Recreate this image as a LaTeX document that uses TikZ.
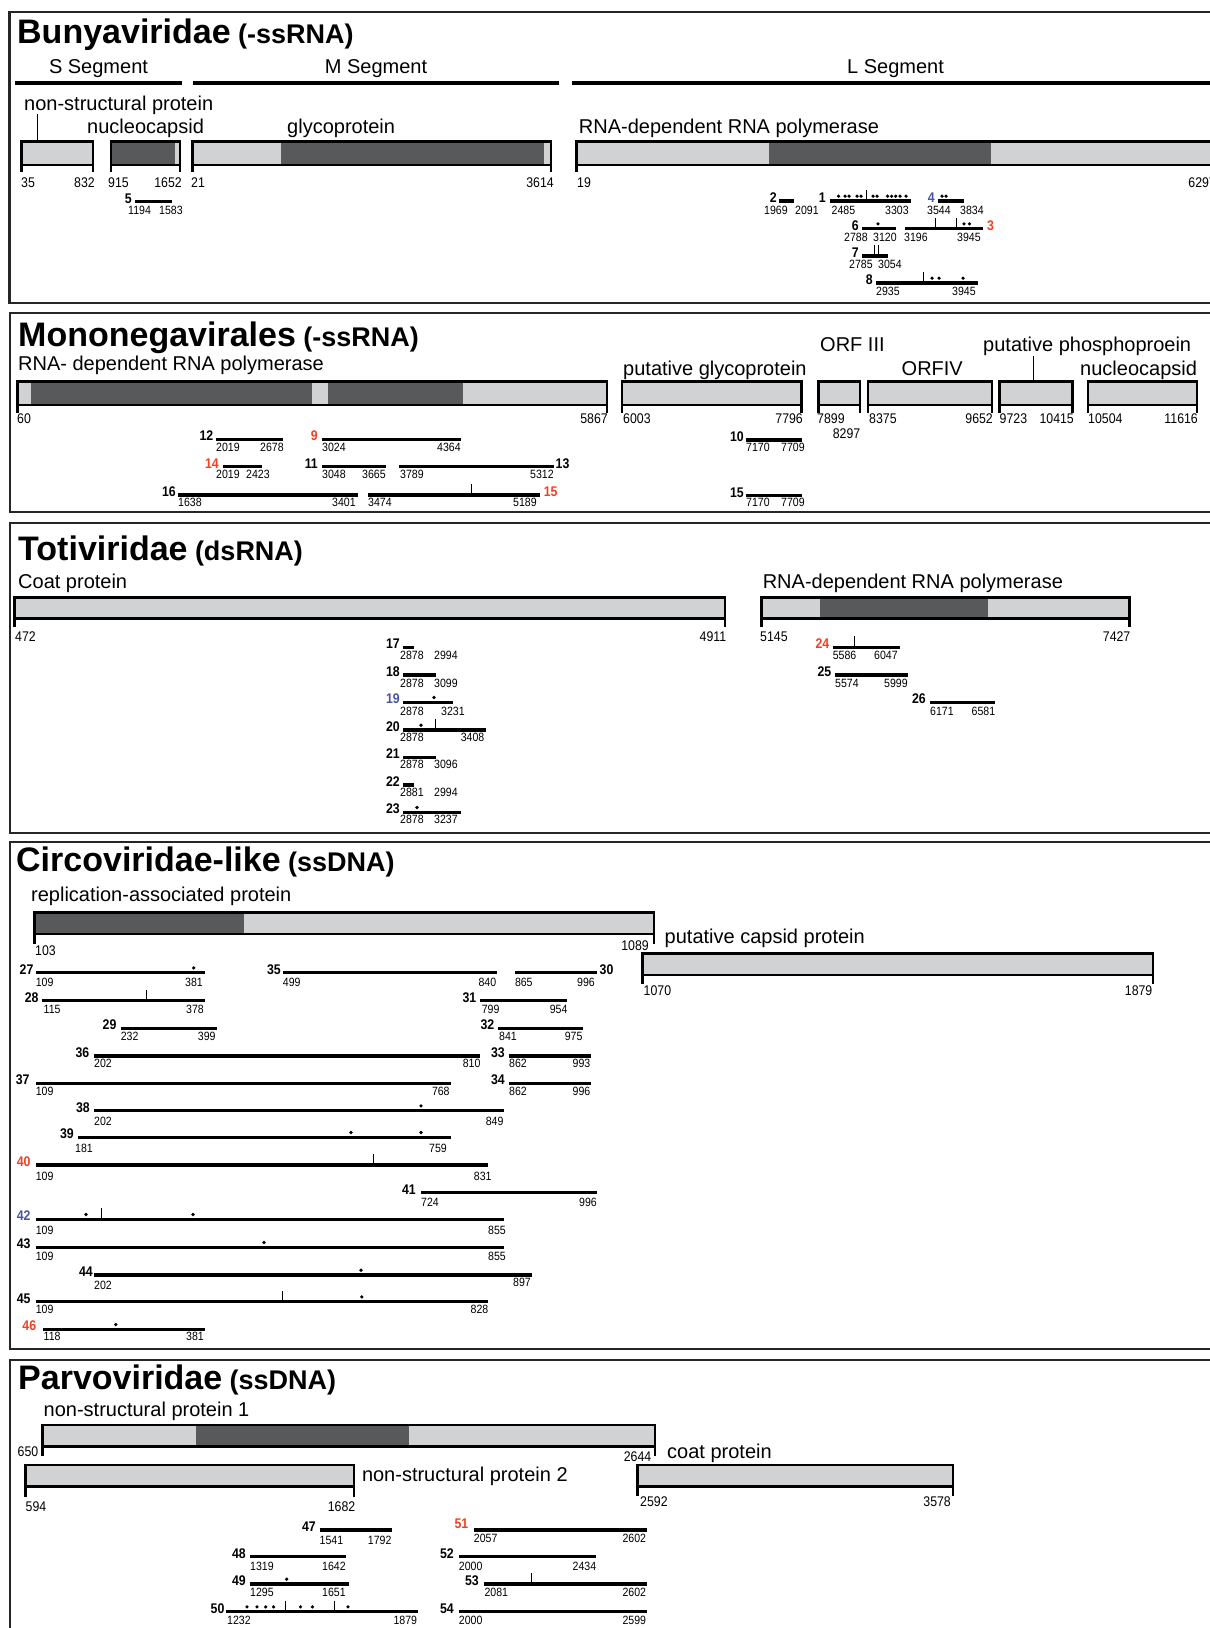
\documentclass[tikz,border=0pt]{standalone}
\usepackage{fontspec}
\setmainfont{Liberation Sans}
\newfontfamily\condfont[FakeStretch=0.88]{Liberation Sans}
\definecolor{lightg}{RGB}{209,210,212}
\definecolor{darkg}{RGB}{88,89,91}
\definecolor{idred}{RGB}{239,65,35}
\definecolor{idblue}{RGB}{72,84,163}
\newcounter{nd}
\tikzset{
 every node/.style={inner sep=0pt},
 frame/.style={line width=2.4pt,draw=black!85},
 seg/.style={line width=4.5pt},
 boxline/.style={line width=2.8pt},
 frag/.style={line width=3.2pt},
 tickl/.style={line width=0.9pt},
 ttl/.style={font=\fontsize{34}{34}\selectfont\bfseries},
 subt/.style={font=\fontsize{27}{27}\selectfont\bfseries},
 lab/.style={font=\fontsize{20}{20}\selectfont},
 bn/.style={font=\condfont\fontsize{14}{14}\selectfont},
 fn/.style={font=\condfont\fontsize{12}{12}\selectfont},
 fid/.style={font=\condfont\fontsize{14}{14}\selectfont\bfseries},
}
\newcommand\Tx[4][]{\stepcounter{nd}\node[anchor=base west,#1] (t\arabic{nd}) at (#2,#3) {#4};}
\newcommand\Te[4][]{\stepcounter{nd}\node[anchor=base east,#1] (t\arabic{nd}) at (#2,#3) {#4};}
\newcommand\pbox[6]{%
 \fill[lightg] (#1,#3) rectangle (#2,#4);
 #6
 \draw[boxline] (#1,#3) rectangle (#2,#4);
 \draw[boxline] (#1,#3) -- (#1,#5) (#2,#3) -- (#2,#5);}
\newcommand\fl[8]{%
 \draw[frag] (#1,#3) -- (#2,#3);
 \Tx[fn]{#4}{#8}{#5}\Tx[fn]{#6}{#8}{#7}}
\newcommand\dt[2]{\fill (#1,#2-4.8) circle (1.8pt);}
\newcommand\tk[2]{\draw[tickl] (#1,#2) -- (#1,#2-11);}
\begin{document}
\begin{tikzpicture}[x=1pt,y=-1pt]
\useasboundingbox (0,0) rectangle (1210,1628);
\clip (0,0) rectangle (1210,1628);
\fill[white] (0,0) rectangle (1210,1628);

%%%%%%%%%%%%%%%% Bunyaviridae
\draw[frame] (9.5,12) rectangle (1240,303);
\node[ttl,anchor=base west] (bunya) at (17,43) {Bunyaviridae};
\node[subt,anchor=base west] (bunyas) at ([xshift=7pt]bunya.base east) {(-ssRNA)};
\node[lab,anchor=base] (sseg) at (98.5,73) {S Segment};
\node[lab,anchor=base] (mseg) at (376,73) {M Segment};
\node[lab,anchor=base] (lseg) at (895.5,73) {L Segment};
\draw[seg] (15,83) -- (182,83);
\draw[seg] (193,83) -- (559,83);
\draw[seg] (572,83) -- (1240,83);
\node[lab,anchor=base west] (nsp) at (24,110) {non-structural protein};
\draw[tickl] ([xshift=13.5pt]nsp.south west) -- (37.5,141.7);
\node[lab,anchor=base west] (ncap) at (87,133) {nucleocapsid};
\node[lab,anchor=base west] (glyc) at (287,133) {glycoprotein};
\node[lab,anchor=base west] (rdrp1) at (578.7,133) {RNA-dependent RNA polymerase};
\pbox{21.8}{93}{141.7}{165}{172}{}
\pbox{111}{180}{141.7}{165}{172}{\fill[darkg] (111,141.7) rectangle (175,165);}
\pbox{192.5}{551}{141.7}{165}{172}{\fill[darkg] (281,141.7) rectangle (544,165);}
\pbox{576.6}{1216}{141.7}{165}{172}{\fill[darkg] (769,141.7) rectangle (991,165);}
\Tx[bn]{21}{187}{35} \Te[bn]{95}{187}{832} \Tx[bn]{108}{187}{915} \Te[bn]{182}{187}{1652}
\Tx[bn]{191}{187}{21} \Te[bn]{554}{187}{3614} \Tx[bn]{577}{187}{19} \Te[bn]{1216}{187}{6297}
% fragments
\fl{135}{172}{201.7}{128}{1194}{159}{1583}{214} \Te[fid]{132}{203}{5}
\fl{779}{794}{201}{764}{1969}{795}{2091}{214} \Te[fid]{777}{202.5}{2}
\fl{830}{911}{201}{831.5}{2485}{885}{3303}{214} \Te[fid]{826}{202.5}{1}
\foreach \x in {838.5,845,849,857,861,873,877,887.5,891.6,895.7,900,906} {\dt{\x}{201}}
\tk{866.7}{201}
\fl{938}{964}{201}{927}{3544}{960}{3834}{214} \Te[fid,text=idblue]{935}{202.5}{4}
\dt{942}{201}\dt{946}{201}
\fl{862}{896}{228.7}{844}{2788}{873}{3120}{241} \Te[fid]{859}{230}{6}
\dt{878}{228.7}
\fl{905}{983}{228.7}{904}{3196}{957}{3945}{241} \Tx[fid,text=idred]{987}{230}{3}
\tk{935}{228.7}\tk{956}{228.7}\dt{964}{228.7}\dt{969.5}{228.7}
\fl{862}{888}{256}{849}{2785}{878}{3054}{268} \Te[fid]{859}{257.5}{7}
\tk{874}{256}\tk{878}{256}
\fl{876}{978}{283}{876}{2935}{952}{3945}{295} \Te[fid]{873}{284.5}{8}
\tk{923}{283}\dt{932}{283}\dt{939}{283}\dt{963}{283}

%%%%%%%%%%%%%%%% Mononegavirales
\draw[frame] (10,313) rectangle (1240,512);
\node[ttl,anchor=base west] (mono) at (18,346.7) {Mononegavirales};
\node[subt,anchor=base west] (monos) at ([xshift=7pt]mono.base east) {(-ssRNA)};
\node[lab,anchor=base west] (rdrp2) at (18,370) {RNA- dependent RNA polymerase};
\pbox{17.8}{607}{381.7}{405}{413}{\fill[darkg] (31,381.7) rectangle (312,405); \fill[darkg] (328,381.7) rectangle (463,405);}
\Tx[bn]{17}{423}{60} \Te[bn]{608}{423}{5867}
\node[lab,anchor=base west] (pglyc) at (623,375) {putative glycoprotein};
\pbox{622}{801.5}{381.7}{405}{413}{}
\Tx[bn]{623}{423}{6003} \Te[bn]{803}{423}{7796}
\node[lab,anchor=base west] (orf3) at (820,351.7) {ORF III};
\pbox{818.6}{860}{381.7}{405}{413}{}
\Tx[bn]{817}{423}{7899} \Tx[bn]{832.6}{438}{8297}
\node[lab,anchor=base west] (orf4) at (901.5,375) {ORFIV};
\pbox{868}{992}{381.7}{405}{413}{}
\Tx[bn]{869}{423}{8375} \Te[bn]{993}{423}{9652}
\node[lab,anchor=base west] (pphos) at (983,351.7) {putative phosphoproein};
\draw[tickl] ([xshift=50pt]pphos.south west) -- (1033,381.7);
\pbox{999.5}{1072.6}{381.7}{405}{413}{}
\Tx[bn]{999.5}{423}{9723} \Te[bn]{1074}{423}{10415}
\node[lab,anchor=base west] (ncap2) at (1080,375) {nucleocapsid};
\pbox{1088}{1197}{381.7}{405}{413}{}
\Tx[bn]{1088}{423}{10504} \Te[bn]{1198}{423}{11616}
% fragments
\fl{216}{283}{439.3}{216}{2019}{260}{2678}{451.7} \Te[fid]{213.5}{440.7}{12}
\fl{322}{461}{439.3}{322}{3024}{437}{4364}{451.7} \Te[fid,text=idred]{318}{440.7}{9}
\fl{223}{262}{466.7}{216}{2019}{246}{2423}{478} \Te[fid,text=idred]{219}{468}{14}
\fl{322}{385.5}{466.7}{322}{3048}{362}{3665}{478} \Te[fid]{318}{468}{11}
\fl{399}{553.5}{466.7}{400}{3789}{530}{5312}{478} \Tx[fid]{555.5}{468}{13}
\fl{178}{358}{495}{178}{1638}{332}{3401}{506.7} \Te[fid]{176}{496.4}{16}
\fl{368}{540}{495}{368}{3474}{513}{5189}{506.7} \Tx[fid,text=idred]{543.6}{496.4}{15}
\tk{471}{495}
\fl{746}{802}{440}{746}{7170}{781}{7709}{451.7} \Te[fid]{744}{441.4}{10}
\fl{746}{802}{495.7}{746}{7170}{781}{7709}{506.7} \Te[fid]{744}{497.1}{15}

%%%%%%%%%%%%%%%% Totiviridae
\draw[frame] (10,523) rectangle (1240,833);
\node[ttl,anchor=base west] (toti) at (18,560) {Totiviridae};
\node[subt,anchor=base west] (totis) at ([xshift=7pt]toti.base east) {(dsRNA)};
\node[lab,anchor=base west] (coat1) at (18,588.3) {Coat protein};
\pbox{14.6}{725}{597.3}{618.3}{626.7}{}
\Tx[bn]{15}{641.7}{472} \Te[bn]{726.4}{641.7}{4911}
\node[lab,anchor=base west] (rdrp3) at (762.6,588) {RNA-dependent RNA polymerase};
\pbox{761.4}{1129.8}{597.3}{618.3}{626.7}{\fill[darkg] (820,597.3) rectangle (988,618.3);}
\Tx[bn]{760}{641.7}{5145} \Te[bn]{1130.5}{641.7}{7427}
% fragments
\fl{403}{414}{647.3}{400}{2878}{434}{2994}{659.3} \Te[fid]{400}{648.7}{17}
\fl{403}{435.7}{675}{400}{2878}{434}{3099}{687.7} \Te[fid]{400}{676.4}{18}
\fl{403}{452.7}{702.3}{400}{2878}{441}{3231}{715} \Te[fid,text=idblue]{400}{703.7}{19}
\dt{434}{702.3}
\fl{403}{485.6}{730}{400}{2878}{460.6}{3408}{741.7} \Te[fid]{400}{731.4}{20}
\dt{421}{730}\tk{435}{730}
\fl{403}{435.7}{757.3}{400}{2878}{434}{3096}{768.3} \Te[fid]{400}{758.7}{21}
\fl{403}{414}{785}{400}{2881}{434}{2994}{796.7} \Te[fid]{400}{786.4}{22}
\fl{403}{460.6}{812.3}{400}{2878}{434}{3237}{823.3} \Te[fid]{400}{813.7}{23}
\dt{417}{812.3}
\fl{832.6}{899.5}{647.3}{832.6}{5586}{874}{6047}{659.3} \Te[fid,text=idred]{829.5}{648.7}{24}
\tk{854.8}{647.3}
\fl{835}{908}{675}{835}{5574}{884}{5999}{687.7} \Te[fid]{831.5}{676.4}{25}
\fl{930}{995}{702.3}{930}{6171}{971.5}{6581}{715} \Te[fid]{926}{703.7}{26}

%%%%%%%%%%%%%%%% Circoviridae-like
\draw[frame] (10,842) rectangle (1240,1349);
\node[ttl,anchor=base west] (circo) at (16,871.7) {Circoviridae-like};
\node[subt,anchor=base west] (circos) at ([xshift=7pt]circo.base east) {(ssDNA)};
\node[lab,anchor=base west] (rep) at (31,901.7) {replication-associated protein};
\pbox{34.4}{654}{912.3}{934}{944}{\fill[darkg] (34.4,912.3) rectangle (244.4,934);}
\Tx[bn]{35}{955}{103} \Te[bn]{649}{950}{1089}
\node[lab,anchor=base west] (capsid) at (664.5,943.3) {putative capsid protein};
\pbox{642.8}{1153}{953.3}{975}{984.3}{}
\Tx[bn]{643.5}{995}{1070} \Te[bn]{1152.5}{995}{1879}
% fragments
\fl{35.6}{204.8}{972.7}{35.6}{109}{185}{381}{986.7} \Te[fid]{33.6}{974.1}{27}
\dt{193.7}{972.7}
\fl{282.7}{497.4}{972.7}{282.7}{499}{478.4}{840}{986.7} \Te[fid]{281}{974.1}{35}
\fl{514.8}{597}{972.7}{514.8}{865}{577}{996}{986.7} \Tx[fid]{599.5}{974.1}{30}
\fl{41.5}{204.8}{1000.7}{43.5}{115}{186}{378}{1013.3} \Te[fid]{38.7}{1002.1}{28}
\tk{146.3}{1000.7}
\fl{480.4}{567.4}{1000.7}{481.6}{799}{549.6}{954}{1013.3} \Te[fid]{476.5}{1002.1}{31}
\fl{120.6}{216.7}{1028.3}{120.6}{232}{197.7}{399}{1040} \Te[fid]{116.6}{1029.7}{29}
\fl{498}{583}{1028.3}{499}{841}{564.6}{975}{1040} \Te[fid]{494.5}{1029.7}{32}
\fl{94}{480.4}{1056}{94}{202}{462.6}{810}{1067.7} \Te[fid]{89.5}{1057.4}{36}
\fl{509}{591}{1056}{509}{862}{572.5}{993}{1067.7} \Te[fid]{505}{1057.4}{33}
\fl{35.6}{450.7}{1083.3}{35.6}{109}{431.8}{768}{1095} \Te[fid]{29.7}{1084.7}{37}
\fl{509}{591}{1083.3}{509}{862}{572.5}{996}{1095} \Te[fid]{505}{1084.7}{34}
\fl{94}{504}{1110.7}{94}{202}{485.6}{849}{1125} \Te[fid]{90}{1112.1}{38}
\dt{421}{1110.7}
\fl{78}{450.7}{1137.3}{75}{181}{429}{759}{1152.7} \Te[fid]{74}{1138.7}{39}
\dt{351}{1137.3}\dt{421}{1137.3}
\fl{35.6}{488.3}{1165}{35.6}{109}{473.7}{831}{1180} \Te[fid,text=idred]{30.8}{1166.4}{40}
\tk{373.6}{1165}
\fl{421}{597}{1192.7}{421}{724}{579}{996}{1206.7} \Te[fid]{416}{1194.1}{41}
\fl{35.6}{504}{1219.3}{35.6}{109}{488}{855}{1234} \Te[fid,text=idblue]{30.8}{1220.7}{42}
\dt{86}{1219.3}\tk{101.6}{1219.3}\dt{193}{1219.3}
\fl{35.6}{504}{1247.3}{35.6}{109}{488}{855}{1260.7} \Te[fid]{30.8}{1248.7}{43}
\dt{264}{1247.3}
\draw[frag] (94,1275) -- (531.8,1275); \Tx[fn]{94}{1289.3}{202} \Tx[fn]{513}{1286}{897} \Te[fid]{93}{1276.4}{44}
\dt{361}{1275}
\fl{35.6}{488.3}{1301.7}{35.6}{109}{470.5}{828}{1313.3} \Te[fid]{30.8}{1303.1}{45}
\tk{282}{1301.7}\dt{361.8}{1301.7}
\fl{42.7}{204.8}{1329.3}{43.5}{118}{186}{381}{1340.7} \Te[fid,text=idred]{36.4}{1330.7}{46}
\dt{115.8}{1329.3}

%%%%%%%%%%%%%%%% Parvoviridae
\draw[frame] (10,1360) rectangle (1240,1660);
\node[ttl,anchor=base west] (parvo) at (18,1389.3) {Parvoviridae};
\node[subt,anchor=base west] (parvos) at ([xshift=7pt]parvo.base east) {(ssDNA)};
\node[lab,anchor=base west] (ns1) at (43.5,1416.7) {non-structural protein 1};
\pbox{42.7}{655}{1425}{1446.7}{1455.5}{\fill[darkg] (195.7,1425) rectangle (409,1446.7);}
\Te[bn]{38.5}{1456}{650} \Te[bn]{651.5}{1461.7}{2644}
\pbox{25.7}{354}{1465}{1486.7}{1496.7}{}
\node[lab,anchor=base west] (ns2) at (361.8,1481.7) {non-structural protein 2};
\Tx[bn]{25.5}{1511.7}{594} \Te[bn]{355.5}{1511.7}{1682}
\node[lab,anchor=base west] (coat2) at (667,1458.3) {coat protein};
\pbox{637.4}{953}{1465}{1486.7}{1496}{}
\Tx[bn]{640}{1506.7}{2592} \Te[bn]{951}{1506.7}{3578}
% fragments
\fl{319.5}{392}{1530}{319.5}{1541}{367.7}{1792}{1544} \Te[fid]{316}{1531.4}{47}
\fl{473.7}{646.5}{1530}{473.7}{2057}{622.4}{2602}{1542.5} \Te[fid,text=idred]{468.5}{1528.3}{51}
\fl{250}{346}{1556.7}{250}{1319}{322}{1642}{1570} \Te[fid]{246}{1558.1}{48}
\fl{458.7}{596}{1556.7}{458.7}{2000}{572.5}{2434}{1570} \Te[fid]{454}{1558.1}{52}
\fl{250}{348.7}{1584}{250}{1295}{322}{1651}{1596.7} \Te[fid]{246}{1585.4}{49}
\dt{286.7}{1584}
\fl{484.4}{646.5}{1584}{484.4}{2081}{622.4}{2602}{1596.5} \Te[fid]{479}{1585.4}{53}
\tk{531.8}{1584}
\fl{226}{418.3}{1611.7}{227}{1232}{393.4}{1879}{1624} \Te[fid]{224.6}{1613.1}{50}
\foreach \x in {247,257,265.7,273.6,300.5,312.4,348} {\dt{\x}{1611.7}}
\tk{285.5}{1611.7}\tk{334}{1611.7}
\fl{458.7}{646.5}{1611.7}{458.7}{2000}{622.4}{2599}{1624} \Te[fid]{454}{1613.1}{54}
\end{tikzpicture}
\end{document}
